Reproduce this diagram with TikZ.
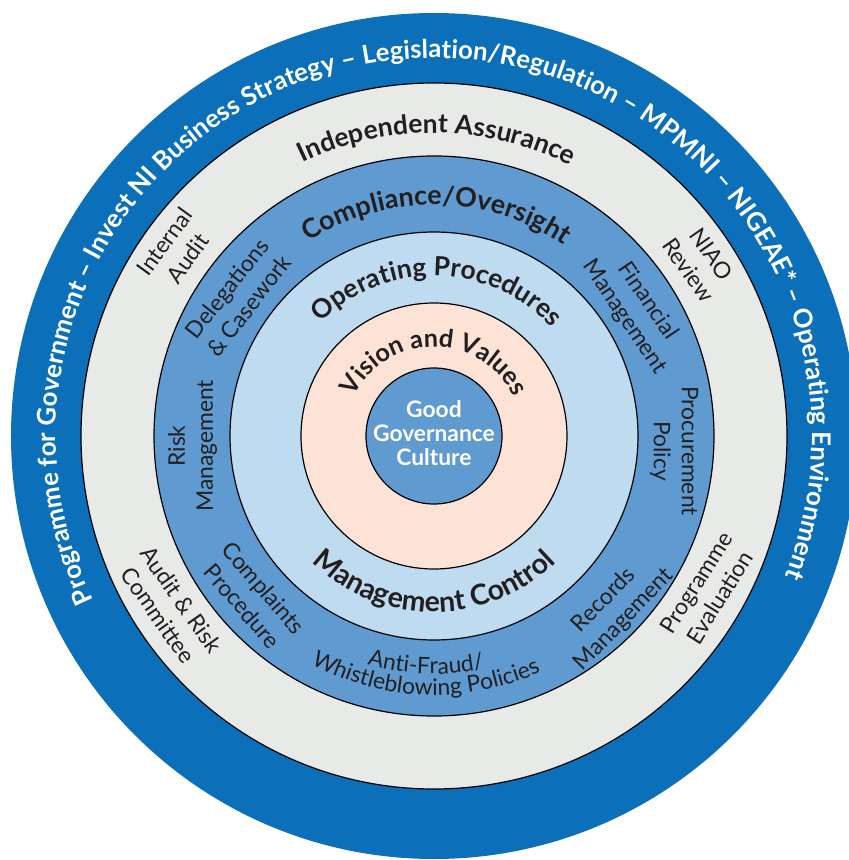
\documentclass[tikz,border=0pt]{standalone}
\usepackage{fontspec}
\setmainfont{Lato}
\usetikzlibrary{decorations.text}
\definecolor{outerblue}{RGB}{11,112,185}
\definecolor{ringgrey}{RGB}{232,234,232}
\definecolor{midblue}{RGB}{95,155,209}
\definecolor{lightblue}{RGB}{190,219,240}
\definecolor{peach}{RGB}{252,227,214}
\definecolor{ink}{RGB}{35,31,32}
\newdimen\fitlen
\newcommand\fitto[4]{\setbox0=\hbox{\normalfont#2\fontsize{17.3pt}{20pt}\selectfont #3}\fitlen=\wd0\relax
  \ifdim\fitlen<1pt \gdef#1{20}\else\pgfmathsetmacro#1{(#4)/\fitlen*17.3}\global\let#1#1\fi}
\AtBeginDocument{%
\fitto\outsz{\bfseries}{Programme for Government – Invest NI Business Strategy – Legislation/Regulation – MPMNI – NIGEAE* – Operating Environment}{226.5*pi/180*378}%
\fitto\indsz{\bfseries}{Independent Assurance}{52.35*pi/180*303}%
\fitto\comsz{\bfseries}{Compliance/Oversight}{66.7*pi/180*231}%
\fitto\opsz{\bfseries}{Operating Procedures}{92.2*pi/180*160}%
\fitto\vissz{\bfseries}{Vision and Values}{126.6*pi/180*89}%
\fitto\mansz{\bfseries}{Management Control}{87.7*pi/180*176}%
\fitto\labelsz{}{Management}{131.7}%
\fitto\ggsz{\bfseries}{Governance}{121.7}%
}
\begin{document}
\begin{tikzpicture}[
  ring/.style={draw=black, line width=1.2pt},
  lbl/.style={align=center, text=ink, inner sep=0pt, font=\fontsize{\labelsz}{28}\selectfont},
  centretext/.style={align=center, text=white, inner sep=0pt, font=\bfseries\fontsize{\ggsz}{24.3}\selectfont}
]
\useasboundingbox (-434pt,-424pt) rectangle (415pt,436pt);
% rings
\fill[outerblue] (0pt,0pt) circle[radius=423pt];
\filldraw[ring, fill=ringgrey] (0pt,0pt) circle[radius=353pt];
\filldraw[ring, fill=midblue] (0pt,0pt) circle[radius=280pt];
\filldraw[ring, fill=lightblue] (0pt,0pt) circle[radius=204pt];
\filldraw[ring, fill=peach] (0pt,0pt) circle[radius=133pt];
\filldraw[ring, fill=midblue] (0pt,0pt) circle[radius=68pt];
% curved titles
\path[decorate, decoration={text along path, text align=center, text={|\color{white}\bfseries\fontsize{\outsz}{\outsz}\selectfont|Programme for Government – Invest NI Business Strategy – Legislation/Regulation – MPMNI – NIGEAE* – Operating Environment}}] (232:378pt) arc[start angle=232, end angle=-48, radius=378pt];
\path[decorate, decoration={text along path, text align=center, text={|\color{ink}\bfseries\fontsize{\indsz}{\indsz}\selectfont|Independent Assurance}}] (134.5:303pt) arc[start angle=134.5, end angle=44.5, radius=303pt];
\path[decorate, decoration={text along path, text align=center, text={|\color{ink}\bfseries\fontsize{\comsz}{\comsz}\selectfont|Compliance/Oversight}}] (139.3:231pt) arc[start angle=139.3, end angle=39.3, radius=231pt];
\path[decorate, decoration={text along path, text align=center, text={|\color{ink}\bfseries\fontsize{\opsz}{\opsz}\selectfont|Operating Procedures}}] (158.8:160pt) arc[start angle=158.8, end angle=18.8, radius=160pt];
\path[decorate, decoration={text along path, text align=center, text={|\color{ink}\bfseries\fontsize{\vissz}{\vissz}\selectfont|Vision and Values}}] (179.7:89pt) arc[start angle=179.7, end angle=-0.3, radius=89pt];
\path[decorate, decoration={text along path, text align=center, text={|\color{ink}\bfseries\fontsize{\mansz}{\mansz}\selectfont|Management Control}}] (210:176pt) arc[start angle=210, end angle=330, radius=176pt];
\path[decorate, decoration={text along path, text align=center, text={|\color{ink}\fontsize{\labelsz}{\labelsz}\selectfont|Anti-Fraud/}}] (228:238pt) arc[start angle=228, end angle=308, radius=238pt];
\path[decorate, decoration={text along path, text align=center, text={|\color{ink}\fontsize{\labelsz}{\labelsz}\selectfont|Whistleblowing Policies}}] (218:259pt) arc[start angle=218, end angle=318, radius=259pt];
% straight labels
\node[lbl, rotate=54] (internal) at (-258pt,186pt) {Internal\\Audit};
\node[lbl, rotate=52] (deleg) at (-196pt,139pt) {Delegations\\\& Casework};
\node[lbl, rotate=90] (risk) at (-241.5pt,-10pt) {Risk\\Management};
\node[lbl, rotate=-49] (complaints) at (-181pt,-161pt) {Complaints\\Procedure};
\node[lbl, rotate=-55] (arcommittee) at (-264pt,-171.5pt) {Audit \& Risk\\Committee};
\node[lbl, rotate=-56] (financial) at (202pt,127pt) {Financial\\Management};
\node[lbl, rotate=-55] (niao) at (266pt,174pt) {NIAO\\Review};
\node[lbl, rotate=-90] (procurement) at (240pt,-15pt) {Procurement\\Policy};
\node[lbl, rotate=46] (records) at (180pt,-174pt) {Records\\Management};
\node[lbl, rotate=58] (progeval) at (274pt,-154pt) {Programme\\Evaluation};
% centre
\node[centretext] (ggc) at (0pt,3pt) {Good\\Governance\\Culture};
\end{tikzpicture}
\end{document}
